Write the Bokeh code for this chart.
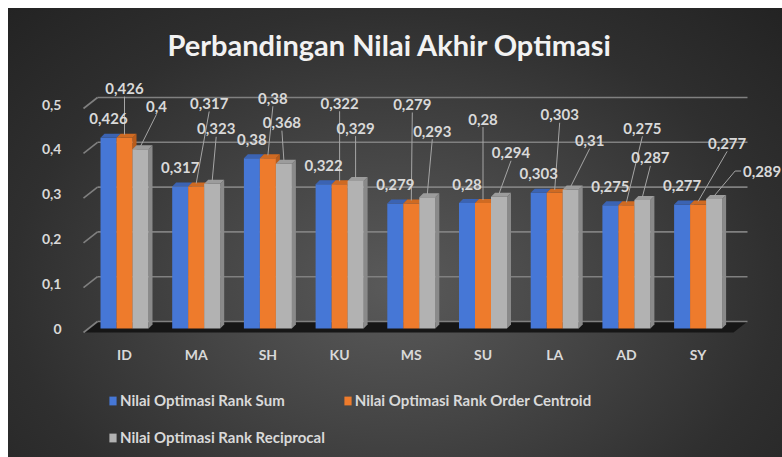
from bokeh.plotting import figure
from bokeh.models import (Range1d, FixedTicker, CustomJSTickFormatter, ColumnDataSource,
                          Legend, LegendItem)
from bokeh.core.properties import value
from bokeh.transform import dodge
from bokeh.embed import file_html
from bokeh.resources import INLINE

# ---------------- data ----------------
categories = ["ID", "MA", "SH", "KU", "MS", "SU", "LA", "AD", "SY"]
rank_sum = [0.426, 0.317, 0.38, 0.322, 0.279, 0.28, 0.303, 0.275, 0.277]
rank_order_centroid = [0.426, 0.317, 0.38, 0.322, 0.279, 0.28, 0.303, 0.275, 0.277]
rank_reciprocal = [0.4, 0.323, 0.368, 0.329, 0.293, 0.294, 0.31, 0.287, 0.289]
y_ticks = [0, 0.1, 0.2, 0.3, 0.4, 0.5]
series_names = ["Nilai Optimasi Rank Sum",
                "Nilai Optimasi Rank Order Centroid",
                "Nilai Optimasi Rank Reciprocal"]

# ---------------- styles / layout ----------------
colors_front = ["#4677d6", "#ee7b2c", "#b2b2b2"]
colors_top = ["#3b63b3", "#cf6a22", "#9c9c9c"]
colors_side = ["#30579e", "#b85c1c", "#8a8a8a"]
TEXT = "#d9d9d9"
FONT = "Lato"

# data-label placement (pixels, relative to bar top centre)
blue_label_dy = -19
orange_label_dx = [0, 13, 5, 0, 1, 0, 5, 16, 29]
orange_label_dy = [-49, -83, -60, -81, -99, -84, -78, -77, -61]
gray_label_dx = [16, 4, -2, 0, 5, 12, 19, 8, 48]
gray_label_dy = [-43, -55, -41, -53, -66, -44, -49, -42, -28]

W, H = 774, 449
ML, MR, MT, MB = 72, 0, 62, 0
PXX = 71.7      # px per category
PXY = 448.0     # px per unit value
frame_w = W - ML - MR
frame_h = H - MT - MB
x_start = -44 / PXX
y_start = -129 / PXY
x_end = x_start + frame_w / PXX
y_end = y_start + frame_h / PXY
BW = 16 / PXX
DX3, DY3 = 4 / PXX, 4 / PXY   # 3D depth of bars


def fx(px):   # frame-relative px -> data x
    return x_start + px / PXX


p = figure(width=W, height=H, output_backend="svg", toolbar_location=None,
           x_range=Range1d(x_start, x_end), y_range=Range1d(y_start, y_end),
           min_border_left=ML, min_border_right=MR, min_border_top=MT,
           min_border_bottom=MB)
p.background_fill_color = None
p.border_fill_color = None
p.outline_line_color = None
p.styles = {"background": "radial-gradient(ellipse farthest-corner at 50% 62%, "
                          "#5a5a5a 0%, #454545 35%, #2f2f2f 70%, #232323 100%)",
            "margin-left": "8px", "margin-top": "8px"}
p.grid.visible = False

# title
p.title.text = "Perbandingan Nilai Akhir Optimasi"
p.title.align = "left"
p.title.offset = 87
p.title.standoff = 18
p.title.text_font = FONT
p.title.text_font_size = "29px"
p.title.text_font_style = "bold"
p.title.text_color = "#f2f2f2"

# axes
idx = list(range(len(categories)))
p.xaxis.ticker = FixedTicker(ticks=idx)
p.xaxis.formatter = CustomJSTickFormatter(args=dict(cats=categories),
                                          code="return cats[Math.round(tick)] || '';")
p.xaxis.fixed_location = -12 / PXY
p.yaxis.ticker = FixedTicker(ticks=y_ticks)
p.yaxis.formatter = CustomJSTickFormatter(
    code="return tick == 0 ? '0' : tick.toFixed(1).replace('.', ',');")
for ax in (p.xaxis, p.yaxis):
    ax.axis_line_color = None
    ax.major_tick_line_color = None
    ax.minor_tick_line_color = None
    ax.major_tick_out = 0
    ax.major_tick_in = 0
    ax.major_label_text_font = FONT
    ax.major_label_text_font_style = "bold"
    ax.major_label_text_font_size = "14px"
    ax.major_label_text_color = TEXT
p.xaxis.major_label_standoff = 5
p.yaxis.major_label_standoff = 19

# 3D floor & back wall gridlines
back_dy = 7 / PXY
front_dy = 4 / PXY
p.patch(x=[fx(3), fx(17), fx(667), fx(653)],
        y=[-front_dy, back_dy, back_dy, -front_dy],
        fill_color="#161616", line_color=None)
grid_src = ColumnDataSource(dict(
    x0=[fx(17)] * len(y_ticks), x1=[fx(667)] * len(y_ticks),
    y=[v + back_dy for v in y_ticks]))
p.segment(x0="x0", y0="y", x1="x1", y1="y", source=grid_src,
          line_color="#808080", line_width=1.6)
diag_src = ColumnDataSource(dict(
    x0=[fx(3)] * len(y_ticks), x1=[fx(17)] * len(y_ticks),
    y0=[v - front_dy for v in y_ticks], y1=[v + back_dy for v in y_ticks]))
p.segment(x0="x0", y0="y0", x1="x1", y1="y1", source=diag_src,
          line_color="#808080", line_width=1.6)

# bars
series = [rank_sum, rank_order_centroid, rank_reciprocal]
offsets = [-BW, 0, BW]
renderers = []
for vals, off, cf, ct, cs in zip(series, offsets, colors_front, colors_top, colors_side):
    centers = [i + off for i in idx]
    side_xs = [[c + BW / 2, c + BW / 2 + DX3, c + BW / 2 + DX3, c + BW / 2] for c in centers]
    side_ys = [[0, DY3, v + DY3, v] for v in vals]
    p.patches(xs=side_xs, ys=side_ys, fill_color=cs, line_color=None)
    src = ColumnDataSource(dict(x=idx, top=vals))
    r = p.vbar(x=dodge("x", off, range=p.x_range), top="top", bottom=0, width=BW,
               source=src, fill_color=cf, line_color=None)
    renderers.append(r)
    top_xs = [[c - BW / 2, c - BW / 2 + DX3, c + BW / 2 + DX3, c + BW / 2] for c in centers]
    top_ys = [[v, v + DY3, v + DY3, v] for v in vals]
    p.patches(xs=top_xs, ys=top_ys, fill_color=ct, line_color=None)


def fmt(v):
    return ("%g" % v).replace(".", ",")


# data labels
lab_x, lab_y, lab_t, lab_dx, lab_dy = [], [], [], [], []
lead_xs, lead_ys = [], []
for i in idx:
    c = i + offsets[0]
    v = rank_sum[i]
    lab_x.append(c); lab_y.append(v); lab_t.append(fmt(v))
    lab_dx.append(0); lab_dy.append(blue_label_dy)
for vals, off, dxs, dys in ((rank_order_centroid, offsets[1], orange_label_dx, orange_label_dy),
                            (rank_reciprocal, offsets[2], gray_label_dx, gray_label_dy)):
    for i in idx:
        c = i + off
        v = vals[i]
        dx, dy = dxs[i], dys[i]
        lab_x.append(c); lab_y.append(v); lab_t.append(fmt(v))
        lab_dx.append(dx); lab_dy.append(dy)
        if abs(dx) > 30:
            ly = v - dy / PXY
            lx = c + (dx - 21) / PXX
            lead_xs.append([c, lx - 6 / PXX, lx])
            lead_ys.append([v + 3 / PXY, ly, ly])
        else:
            lead_xs.append([c, c + dx / PXX])
            lead_ys.append([v + 3 / PXY, v - (dy + 8) / PXY])

p.multi_line(xs=lead_xs, ys=lead_ys, line_color="#a6a6a6", line_width=1)
lab_src = ColumnDataSource(dict(x=lab_x, y=lab_y, t=lab_t, dx=lab_dx, dy=lab_dy))
p.text(x="x", y="y", text="t", x_offset="dx", y_offset="dy", source=lab_src,
       text_font=value(FONT), text_font_style="bold", text_font_size="15px",
       text_color=TEXT, text_align="center", text_baseline="middle")


def style_legend(lg):
    lg.background_fill_alpha = 0
    lg.border_line_color = None
    lg.label_text_font = FONT
    lg.label_text_font_style = "bold"
    lg.label_text_font_size = "15px"
    lg.label_text_color = TEXT
    lg.glyph_width = 9
    lg.glyph_height = 11
    lg.label_standoff = 3
    lg.padding = 0
    lg.margin = 0


legend_a = Legend(items=[LegendItem(label=series_names[0], renderers=[renderers[0]]),
                         LegendItem(label=series_names[1], renderers=[renderers[1]])],
                  orientation="horizontal", location=(28, 48), spacing=58)
style_legend(legend_a)
legend_b = Legend(items=[LegendItem(label=series_names[2], renderers=[renderers[2]])],
                  orientation="horizontal", location=(28, 11))
style_legend(legend_b)
p.add_layout(legend_a, "center")
p.add_layout(legend_b, "center")

open("out.html", "w").write(file_html(p, INLINE))
